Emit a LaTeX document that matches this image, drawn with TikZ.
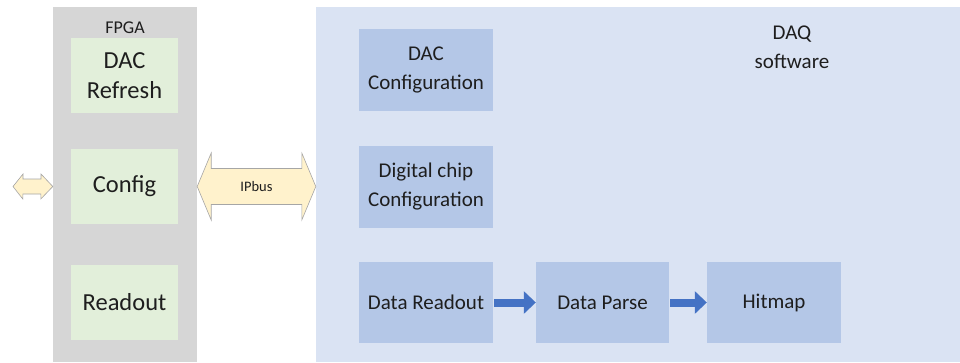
\documentclass[tikz,border=0pt]{standalone}
\usepackage{fontspec}
\setmainfont{Carlito}
\usetikzlibrary{arrows.meta,calc}
\definecolor{fpgagray}{HTML}{D6D6D6}
\definecolor{greenbox}{HTML}{E2EFDA}
\definecolor{daqbg}{HTML}{DAE3F3}
\definecolor{bluebox}{HTML}{B4C7E7}
\definecolor{arrowblue}{HTML}{4472C4}
\definecolor{busfill}{HTML}{FFF2CC}
\definecolor{busline}{HTML}{A6A6A6}
\definecolor{txt}{HTML}{1E1E1E}
\tikzset{
  panel/.style={draw=none, inner sep=0pt, anchor=center},
  greenblk/.style={fill=greenbox, draw=none, inner sep=0pt, minimum width=107pt, minimum height=75pt, align=center, text=txt, font=\fontsize{24.5}{30}\selectfont},
  blueblk/.style={fill=bluebox, draw=none, inner sep=0pt, minimum width=134pt, minimum height=82pt, align=center, text=txt, font=\fontsize{21}{29}\selectfont},
  flowarrow/.style={draw=arrowblue, line width=8pt, -{Triangle[length=12pt,width=22pt]}, shorten <=1pt},
  busarrow/.style={fill=busfill, draw=busline, line width=0.6pt, line join=miter},
}
\begin{document}
\begin{tikzpicture}[x=1pt,y=-1pt]
\useasboundingbox (0,0) rectangle (960,362);
\fill[white] (0,0) rectangle (960,362);
% panels
\node[panel, fill=fpgagray, minimum width=144pt, minimum height=355pt] (fpga) at (125,184.5) {};
\node[panel, fill=daqbg, minimum width=644pt, minimum height=355pt] (daq) at (638,184.5) {};
\node[text=txt, font=\fontsize{18}{20}\selectfont] (fpgalbl) at (125,27.5) {FPGA};
\node[text=txt, align=center, font=\fontsize{21}{29}\selectfont] (daqlbl) at (792,47) {DAQ\\software};
% FPGA blocks
\node[greenblk] (dacref) at (124.5,75.5) {DAC\\Refresh};
\node[greenblk] (config) at (124.5,186.5) {Config};
\node[greenblk] (readout) at (124.5,302.5) {Readout};
% DAQ blocks
\node[blueblk] (daccfg) at (426,70) {DAC\\Configuration};
\node[blueblk] (digcfg) at (426,186.5) {Digital chip\\Configuration};
\node[blueblk, minimum height=81pt] (dataro) at (426,302.5) {Data Readout};
\node[blueblk, minimum width=133pt, minimum height=81pt] (parse) at (602.5,302.5) {Data Parse};
\node[blueblk, minimum height=81pt] (hitmap) at (774,302.5) {Hitmap};
% flow arrows
\draw[flowarrow] (dataro.east) -- (parse.west);
\draw[flowarrow] (parse.east) -- (hitmap.west);
% IPbus double arrow
\coordinate (busL) at (fpga.east |- config.center);
\coordinate (busR) at (daq.west |- config.center);
\draw[busarrow] (busL) -- ++(14,-33.5) -- ++(0,15.5) -- ($(busR)+(-14,-18)$) -- ++(0,-15.5) -- (busR) -- ++(-14,33.5) -- ++(0,-15.5) -- ($(busL)+(14,18)$) -- ++(0,15.5) -- cycle;
\node[text=txt, font=\fontsize{14.5}{17}\selectfont] (ipbus) at ($(busL)!0.5!(busR)$) {IPbus};
% small external double arrow
\coordinate (extR) at (fpga.west |- config.center);
\coordinate (extL) at (13,186.5);
\draw[busarrow] (extL) -- ++(10,-12.5) -- ++(0,5) -- ++(18,0) -- ++(0,-5) -- (extR) -- ++(-12,12.5) -- ++(0,-5) -- ++(-18,0) -- ++(0,5) -- cycle;
\end{tikzpicture}
\end{document}
